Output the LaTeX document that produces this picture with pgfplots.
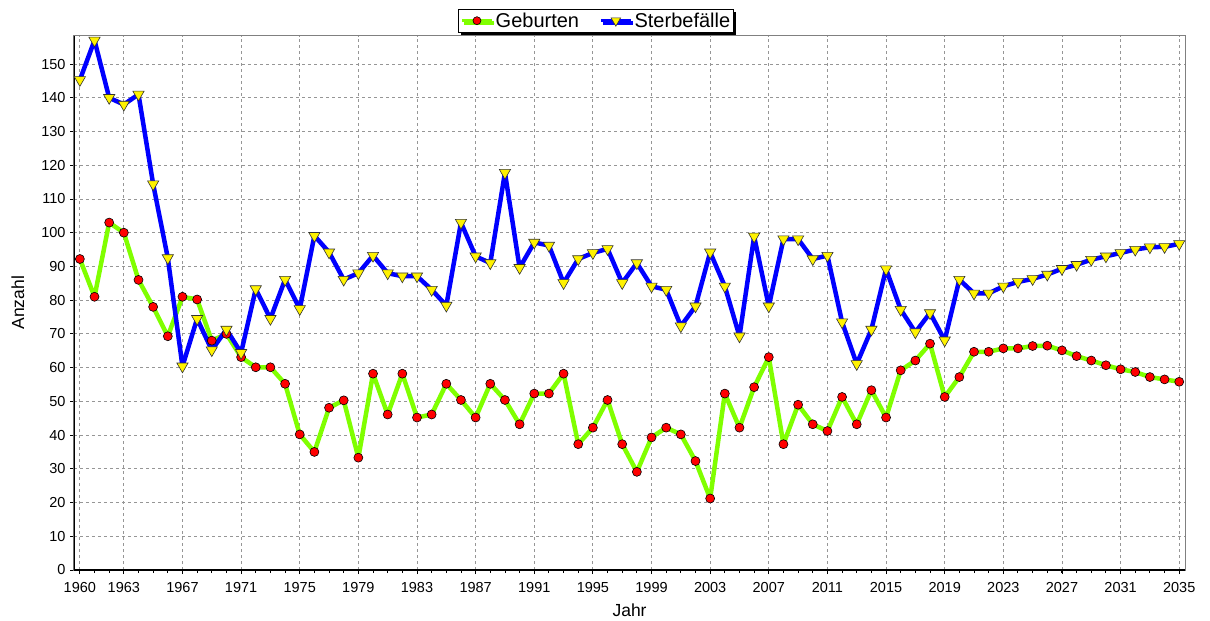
\documentclass[border=0pt]{standalone}
\usepackage{fontspec}
\setmainfont{Liberation Sans}
\usepackage{pgfplots}
\usepackage{pgfplotstable}
\pgfplotsset{compat=1.18}
\usetikzlibrary{shadows}
\definecolor{lgreen}{RGB}{128,255,0}
\definecolor{gridgray}{RGB}{150,150,150}

\pgfplotstableread{
year G S
1960 92.2 145.3
1961 81 157
1962 103 140
1963 100 138
1964 86 141
1965 78 114.4
1966 69.3 92.5
1967 81 60.4
1968 80.2 74.5
1969 68 65.2
1970 70 71.3
1971 63.1 64.4
1972 60.1 83.3
1973 60.1 74.5
1974 55.2 86.1
1975 40.2 77.4
1976 35 99.1
1977 48.1 94.2
1978 50.3 86.1
1979 33.3 88
1980 58.2 93.2
1981 46.1 88
1982 58.2 87.1
1983 45.2 87.1
1984 46.1 83.1
1985 55.2 78.4
1986 50.4 103
1987 45.2 93
1988 55.2 91
1989 50.4 117.8
1990 43.2 89.6
1991 52.3 97.1
1992 52.3 96.2
1993 58.2 85.1
1994 37.3 92.2
1995 42.2 94
1996 50.4 95.2
1997 37.3 85.1
1998 29.1 91
1999 39.3 84.1
2000 42.2 83.1
2001 40.2 72.3
2002 32.3 78.2
2003 21.2 94.2
2004 52.3 84.1
2005 42.2 69.3
2006 54.2 98.9
2007 63.1 78.2
2008 37.3 98.1
2009 49 98.1
2010 43.2 92.2
2011 41.2 93.2
2012 51.3 73.5
2013 43.2 61.1
2014 53.3 71.3
2015 45.2 89.2
2016 59.2 77.2
2017 62.1 70.5
2018 67.1 76.2
2019 51.3 68.1
2020 57.2 86.1
2021 64.7 82
2022 64.7 82
2023 65.7 84.1
2024 65.7 85.4
2025 66.4 86.3
2026 66.5 87.6
2027 65.1 89.3
2028 63.4 90.5
2029 62.1 92
2030 60.7 93
2031 59.5 94
2032 58.7 95
2033 57.2 95.7
2034 56.5 95.8
2035 55.8 96.7
}\datatable

\begin{document}
\begin{tikzpicture}[x=1pt,y=1pt]
\useasboundingbox (-74,-51) rectangle (1136,570);
\begin{axis}[
  scale only axis,
  width=1111pt, height=534.3pt,
  xmin=1959.6, xmax=2035.4,
  ymin=0, ymax=158.4,
  xtick={1960,1963,1967,1971,1975,1979,1983,1987,1991,1995,1999,2003,2007,2011,2015,2019,2023,2027,2031,2035},
  minor xtick={1960,...,2035},
  ytick={0,10,...,150},
  xtick pos=bottom, ytick pos=left,
  tick align=outside,
  major tick length=4pt, minor tick length=3pt,
  every tick/.style={black, line width=0.8pt},
  grid=major,
  major grid style={gridgray, dashed, line width=0.8pt, dash pattern=on 3pt off 3pt},
  axis line style={gray, line width=1pt},
  tick label style={font=\fontsize{14.5}{16}\selectfont},
  /pgf/number format/.cd, 1000 sep={}, assume math mode=true,
  /pgfplots/.cd,
  xticklabel style={yshift=-5pt},
  yticklabel style={xshift=-1pt},
  xlabel={Jahr}, ylabel={Anzahl},
  label style={font=\fontsize{17.5}{19}\selectfont},
  xlabel style={yshift=-4pt},
  ylabel style={yshift=10pt},
  legend style={at={(0.47,1)}, anchor=south, yshift=3pt,
    legend columns=2, draw=black, line width=1pt, fill=white,
    font=\fontsize{20}{22}\selectfont,
    inner sep=1.5pt,
    /tikz/every even column/.append style={column sep=18pt},
    drop shadow={shadow xshift=2.5pt, shadow yshift=-2.5pt, fill=black, opacity=1}},
  legend image code/.code={
    \draw[#1, mark repeat=2, mark phase=2] plot coordinates {(0pt,0pt) (15pt,0pt) (30pt,0pt)};
  },
]
\addlegendimage{lgreen, line width=3.5pt, mark=*, mark size=4pt, mark options={fill=red, draw=black, line width=0.6pt}}
\addlegendentry{Geburten}
\addlegendimage{blue, line width=3.5pt, mark=triangle*, mark size=5.5pt, mark options={fill=yellow, draw=black!80, line width=0.6pt, rotate=180}}
\addlegendentry{Sterbefälle}

\addplot[lgreen, line width=4.5pt, line join=round, forget plot] table[x=year, y=G] {\datatable};
\addplot[blue, line width=4.5pt, line join=round, forget plot] table[x=year, y=S] {\datatable};
\addplot[only marks, mark=*, mark size=4.5pt, mark options={fill=red, draw=black, line width=0.6pt}, forget plot] table[x=year, y=G] {\datatable};
\addplot[only marks, mark=triangle*, mark size=6.5pt, mark options={fill=yellow, draw=black!80, line width=0.6pt, rotate=180}, forget plot] table[x=year, y=S] {\datatable};

\draw[black, line width=2pt] (rel axis cs:0,1) -- (rel axis cs:0,0) -- (rel axis cs:1,0);
\end{axis}
\end{tikzpicture}
\end{document}
